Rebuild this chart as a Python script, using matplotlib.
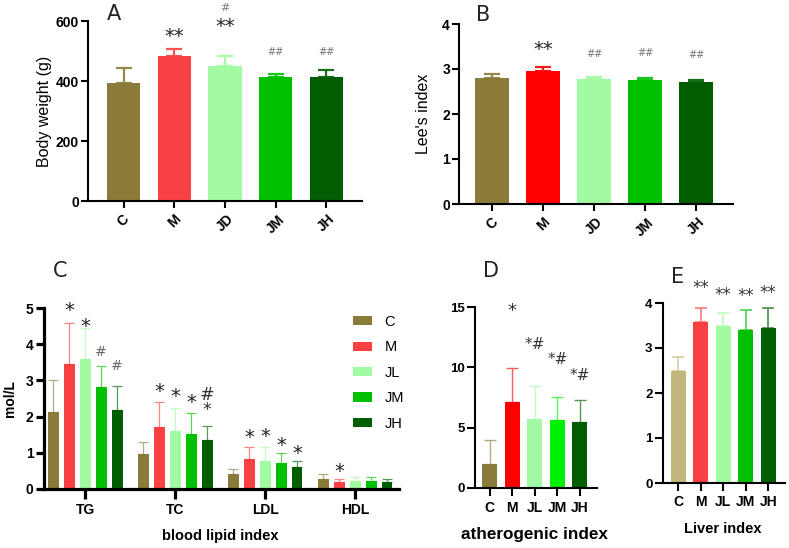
import matplotlib
matplotlib.use('Agg')
import matplotlib.pyplot as plt
from matplotlib.patches import Patch
from matplotlib.colors import to_rgb
from matplotlib.transforms import offset_copy
import numpy as np

# ---------------- data ----------------
groups_ab = ['C', 'M', 'JD', 'JM', 'JH']
bw_mean = [393, 485, 450, 413, 415]
bw_sd = [50, 23, 32, 10, 22]
bw_marks = ['', '**', '**', '##', '##']
bw_mark_y = [0, 560, 594, 498, 498]
bw_extra = ['', '', '#', '', '']
bw_extra_y = [0, 0, 645, 0, 0]

lee_mean = [2.80, 2.95, 2.78, 2.75, 2.72]
lee_sd = [0.08, 0.09, 0.05, 0.05, 0.04]
lee_marks = ['', '**', '##', '##', '##']
lee_mark_y = [0, 3.51, 3.33, 3.36, 3.31]

lipid_cats = ['TG', 'TC', 'LDL', 'HDL']
lipid_groups = ['C', 'M', 'JL', 'JM', 'JH']
lipid_C = [2.13, 0.97, 0.42, 0.29]
lipid_M = [3.46, 1.70, 0.84, 0.18]
lipid_JL = [3.58, 1.61, 0.78, 0.21]
lipid_JM = [2.82, 1.52, 0.71, 0.21]
lipid_JH = [2.19, 1.36, 0.62, 0.18]
lipid_C_sd = [0.89, 0.32, 0.12, 0.12]
lipid_M_sd = [1.13, 0.71, 0.33, 0.10]
lipid_JL_sd = [0.86, 0.63, 0.38, 0.11]
lipid_JM_sd = [0.58, 0.58, 0.29, 0.11]
lipid_JH_sd = [0.65, 0.38, 0.14, 0.11]
# annotations: (category index, group index, text, y)
lipid_marks = [(0, 1, '*', 5.03), (0, 2, '*', 4.61), (0, 3, '#', 3.78), (0, 4, '#', 3.40),
               (1, 1, '*', 2.79), (1, 2, '*', 2.65), (1, 3, '*', 2.51), (1, 4, '#\n*', 2.40),
               (2, 1, '*', 1.52), (2, 2, '*', 1.55), (2, 3, '*', 1.30), (2, 4, '*', 1.08),
               (3, 1, '*', 0.58)]

groups_de = ['C', 'M', 'JL', 'JM', 'JH']
ai_mean = [2.02, 7.15, 5.74, 5.63, 5.49]
ai_sd = [1.92, 2.80, 2.69, 1.91, 1.77]
ai_marks = ['', '*', '*#', '*#', '*#']
ai_mark_y = [0, 14.98, 11.93, 10.69, 9.36]

liver_mean = [2.48, 3.58, 3.50, 3.40, 3.45]
liver_sd = [0.31, 0.31, 0.28, 0.45, 0.45]
liver_marks = ['', '**', '**', '**', '**']
liver_mark_y = [0, 4.40, 4.25, 4.23, 4.29]

# ---------------- style ----------------
OLIVE = '#8B7B3A'
CORAL = '#F94144'
RED = '#FF0000'
LGREEN = '#A2FBA2'
GREEN = '#00C000'
BGREEN = '#00F000'
DGREEN = '#005E00'
TAN = '#C2B67C'

cols_A = [OLIVE, CORAL, LGREEN, GREEN, DGREEN]
cols_B = [OLIVE, RED, LGREEN, GREEN, DGREEN]
cols_C = [OLIVE, CORAL, LGREEN, GREEN, DGREEN]
cols_D = [OLIVE, RED, LGREEN, BGREEN, DGREEN]
cols_E = [TAN, CORAL, LGREEN, GREEN, DGREEN]

def lighten(c, f):
    r = np.array(to_rgb(c))
    return tuple(r + (1 - r) * f)

plt.rcParams['font.family'] = ['Liberation Sans', 'DejaVu Sans']

W, H = 789, 548
fig = plt.figure(figsize=(W / 100, H / 100), dpi=100)

def axpx(l, r, t, b):
    return fig.add_axes([l / W, 1 - b / H, (r - l) / W, (b - t) / H])

def fig_text(x, y, s, **kw):
    fig.text(x / W, 1 - y / H, s, ha='center', va='center', **kw)

def style_axes(ax, lw, ticklen, fs):
    for s in ['top', 'right']:
        ax.spines[s].set_visible(False)
    for s in ['left', 'bottom']:
        ax.spines[s].set_linewidth(lw)
    ax.tick_params(width=lw, length=ticklen, labelsize=fs, pad=1.5)
    for lab in ax.get_yticklabels() + ax.get_xticklabels():
        lab.set_fontweight('bold')

def bar_panel(ax, means, sds, cols, width, elw, cap, errlight):
    x = np.arange(len(means))
    ax.bar(x, means, width=width, color=cols, zorder=2)
    for i in range(len(means)):
        ax.errorbar(x[i], means[i], yerr=[[0], [sds[i]]], fmt='none',
                    ecolor=lighten(cols[i], errlight), elinewidth=elw,
                    capsize=cap, capthick=elw, zorder=1)
    return x

STAR_FONT = ['DejaVu Sans']

def mark(ax, x, y, s, fs, color, **kw):
    # asterisk glyphs sit high in the line box: shift them down a little
    if set(s) == {'*'}:
        tr = offset_copy(ax.transData, fig=fig, x=0, y=-0.2 * fs, units='points')
    else:
        tr = ax.transData
    ax.text(x, y, s, ha='center', va='center', fontsize=fs, color=color,
            family=STAR_FONT, clip_on=False, transform=tr, **kw)

# ---------------- Panel A ----------------
axA = axpx(88, 362, 21, 201)
x = bar_panel(axA, bw_mean, bw_sd, cols_A, 0.66, 1.6, 6, 0.1)
axA.set_xlim(-0.7, 4.7)
axA.set_ylim(0, 600)
axA.set_yticks([0, 200, 400, 600])
axA.set_xticks(x)
axA.set_xticklabels(groups_ab, rotation=45, ha='center', va='top')
style_axes(axA, 1.5, 5, 10)
axA.tick_params(axis='x', length=5, pad=3)
axA.set_ylabel('Body weight (g)', fontsize=11.5, labelpad=3)
for i in range(5):
    if bw_marks[i]:
        if '*' in bw_marks[i]:
            mark(axA, x[i], bw_mark_y[i], bw_marks[i], 14, '#222222')
        else:
            mark(axA, x[i], bw_mark_y[i], bw_marks[i], 7, '#777777')
    if bw_extra[i]:
        mark(axA, x[i], bw_extra_y[i], bw_extra[i], 8, '#777777')

# ---------------- Panel B ----------------
axB = axpx(459, 733, 24, 204)
x = bar_panel(axB, lee_mean, lee_sd, cols_B, 0.66, 1.6, 6, 0.1)
axB.set_xlim(-0.65, 4.72)
axB.set_ylim(0, 4)
axB.set_yticks([0, 1, 2, 3, 4])
axB.set_xticks(x)
axB.set_xticklabels(groups_ab, rotation=45, ha='center', va='top')
style_axes(axB, 1.5, 5, 10)
axB.tick_params(axis='x', length=5, pad=3)
axB.set_ylabel("Lee's index", fontsize=11.5, labelpad=8)
for i in range(5):
    if lee_marks[i]:
        if '*' in lee_marks[i]:
            mark(axB, x[i], lee_mark_y[i], lee_marks[i], 14, '#222222')
        else:
            mark(axB, x[i], lee_mark_y[i], lee_marks[i], 7, '#777777')

# ---------------- Panel C ----------------
axC = axpx(44, 399, 308, 489)
lipid_means = [lipid_C, lipid_M, lipid_JL, lipid_JM, lipid_JH]
lipid_sds = [lipid_C_sd, lipid_M_sd, lipid_JL_sd, lipid_JM_sd, lipid_JH_sd]
xc = np.arange(len(lipid_cats))
off = 0.177
bw = 0.119
for g in range(5):
    xs = xc + (g - 2) * off
    axC.bar(xs, lipid_means[g], width=bw, color=cols_C[g], zorder=2, label=lipid_groups[g])
    axC.errorbar(xs, lipid_means[g], yerr=[np.zeros(4), lipid_sds[g]], fmt='none',
                 ecolor=lighten(cols_C[g], 0.35), elinewidth=0.9, capsize=3.5,
                 capthick=0.9, zorder=1)
for (ci, gi, s, yv) in lipid_marks:
    xx = xc[ci] + (gi - 2) * off
    if s == '*':
        mark(axC, xx, yv, s, 14, '#222222')
    elif s == '#':
        mark(axC, xx, yv, s, 10, '#666666')
    else:
        mark(axC, xx, yv, s, 12.5, '#333333', linespacing=0.78)
axC.set_xlim(-0.459, 3.486)
axC.set_ylim(0, 5)
axC.set_yticks([0, 1, 2, 3, 4, 5])
axC.set_xticks(xc)
axC.set_xticklabels(lipid_cats)
style_axes(axC, 2.3, 6, 10)
axC.tick_params(axis='x', length=7, pad=3)
axC.set_ylabel('mol/L', fontsize=10, fontweight='bold', labelpad=6)
handles = [Patch(facecolor=cols_C[g]) for g in range(5)]
axC.legend(handles, lipid_groups, loc='upper left', bbox_to_anchor=(353 / W, 1 - 315 / H),
           bbox_transform=fig.transFigure, frameon=False, fontsize=10.5,
           handlelength=1.3, handleheight=0.6, labelspacing=0.78, handletextpad=0.85,
           borderpad=0, borderaxespad=0)

# ---------------- Panel D ----------------
axD = axpx(475, 597, 307, 488)
x = bar_panel(axD, ai_mean, ai_sd, cols_D, 0.667, 1.0, 4, 0.35)
axD.set_xlim(-0.66, 4.76)
axD.set_ylim(0, 15)
axD.set_yticks([0, 5, 10, 15])
axD.set_xticks(x)
axD.set_xticklabels(groups_de)
style_axes(axD, 1.5, 6, 9.5)
axD.tick_params(axis='x', length=6, pad=3, labelsize=10)
for i in range(5):
    if ai_marks[i]:
        mark(axD, x[i], ai_mark_y[i], ai_marks[i], 13 if ai_marks[i] == '*' else 11, '#333333')

# ---------------- Panel E ----------------
axE = axpx(663, 785, 303, 483)
x = bar_panel(axE, liver_mean, liver_sd, cols_E, 0.67, 1.2, 4, 0.3)
axE.set_xlim(-0.69, 4.75)
axE.set_ylim(0, 4)
axE.set_yticks([0, 1, 2, 3, 4])
axE.set_xticks(x)
axE.set_xticklabels(groups_de)
style_axes(axE, 1.5, 6, 9.5)
axE.tick_params(axis='x', length=6, pad=3, labelsize=10)
for i in range(5):
    if liver_marks[i]:
        mark(axE, x[i], liver_mark_y[i], liver_marks[i], 12, '#333333')

# ---------------- panel letters and titles ----------------
LET = ['DejaVu Sans']
fig_text(114, 14, 'A', fontsize=15, family=LET, color='#222222')
fig_text(483, 15, 'B', fontsize=15, family=LET, color='#222222')
fig_text(60, 271, 'C', fontsize=15, family=LET, color='#222222')
fig_text(491, 271, 'D', fontsize=15, family=LET, color='#222222')
fig_text(678, 277, 'E', fontsize=15, family=LET, color='#222222')
fig_text(220, 536, 'blood lipid index', fontsize=10.5, fontweight='bold')
fig_text(534, 535, 'atherogenic index', fontsize=12.3, fontweight='bold')
fig_text(723, 529, 'Liver index', fontsize=10.5, fontweight='bold')

fig.savefig('out.png', dpi=100)
